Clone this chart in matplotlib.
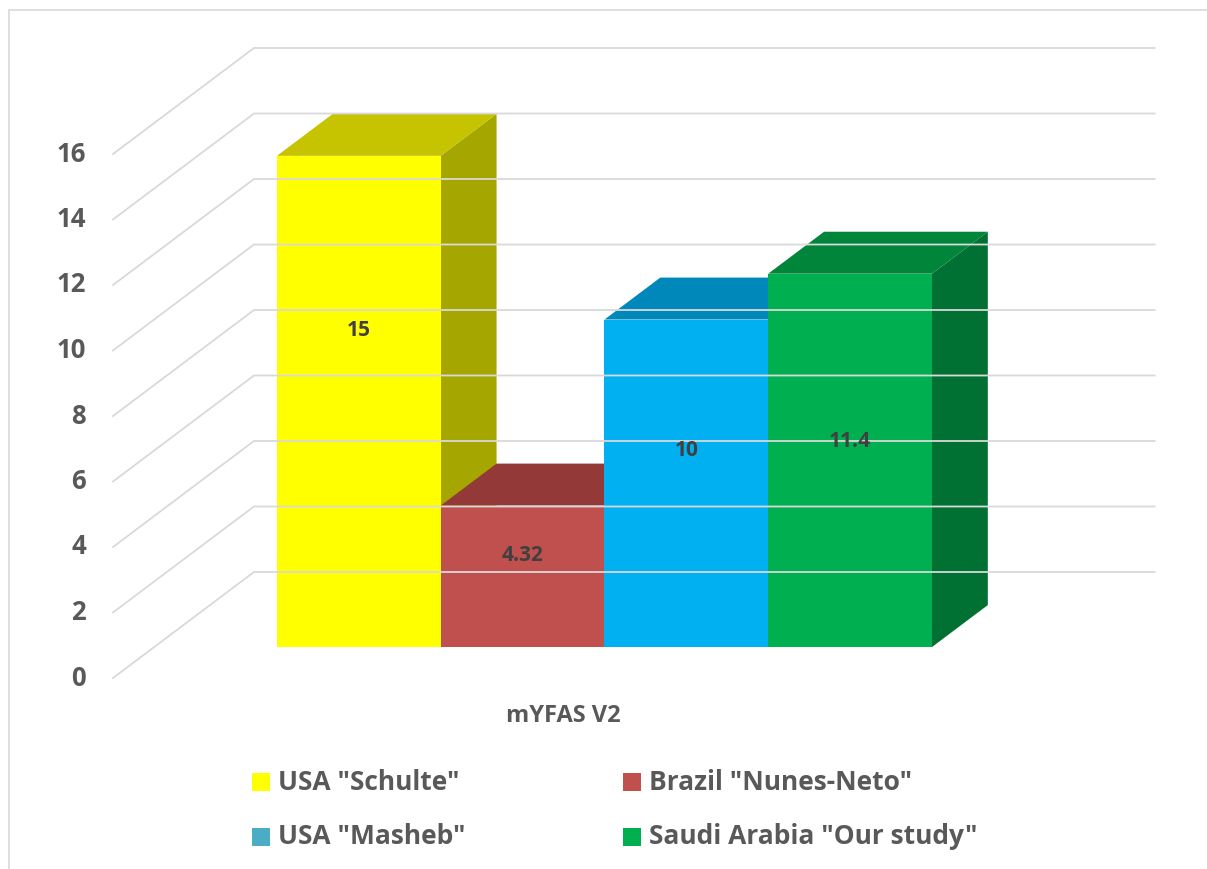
import matplotlib
matplotlib.use('Agg')
import matplotlib.pyplot as plt
from matplotlib.patches import Polygon, Rectangle

# ---------------------------------------------------------------------
# data

series = ['USA "Schulte"', 'Brazil "Nunes-Neto"', 'USA "Masheb"', 'Saudi Arabia "Our study"']
values = [15, 4.32, 10, 11.4]
value_labels = ['15', '4.32', '10', '11.4']
category = 'mYFAS V2'
y_ticks = [0, 2, 4, 6, 8, 10, 12, 14, 16]

# ---------------------------------------------------------------------
# look

front_colors = ['#ffff00', '#c0504d', '#00b0f0', '#00b050']
top_colors = ['#c6c300', '#933a39', '#0088ba', '#00853a']
side_colors = ['#a6a600', '#7d2f2d', '#006f99', '#007033']
legend_colors = ['#ffff00', '#c0504d', '#4bacc6', '#00b050']
label_frac = [0.645, 0.65, 0.6, 0.55]   # where excel put the data labels

grid_color = '#d9d9d9'
text_color = '#595959'
label_color = '#404040'
font = 'Open Sans'

W, H = 1207, 869
px_x = 163.75      # pixels per bar width
px_y = 32.75       # pixels per value unit
x0_px, y0_px = 235.8, 678.0   # where world (0, 0, 0) lands

DX = 141 / px_x    # full floor depth, in data units
DY = 106 / px_y
z0, z1 = 0.292, 0.688
x_left, x_right = -0.75, 4.75


def proj(x, y, z):
    return (x + z * DX, y + z * DY)


fig = plt.figure(figsize=(W / 100, H / 100), dpi=100)
ax = fig.add_axes([0, 0, 1, 1])
ax.set_xlim(-x0_px / px_x, (W - x0_px) / px_x)
ax.set_ylim((y0_px - H) / px_y, y0_px / px_y)
ax.axis('off')

# chart area border (cropped screenshot: only left and top show)
ax.add_patch(Rectangle((0.0075, -0.5), 2, 1.488, transform=fig.transFigure,
                       fill=False, edgecolor=grid_color, lw=1.2))

# walls
for v in y_ticks:
    a = proj(x_left, v, 0)
    b = proj(x_left, v, 1)
    c = proj(x_right, v, 1)
    ax.plot([a[0], b[0], c[0]], [a[1], b[1], c[1]], color=grid_color, lw=1.3,
            solid_joinstyle='miter')
    ax.text(a[0] - 0.165, a[1], str(v), ha='right', va='center', fontsize=18.5,
            fontweight='bold', color=text_color, family=font)

# bars: sides, then tops, then fronts
for i, v in enumerate(values):
    pts = [proj(i + 1, 0, z0), proj(i + 1, 0, z1), proj(i + 1, v, z1), proj(i + 1, v, z0)]
    ax.add_patch(Polygon(pts, closed=True, facecolor=side_colors[i], edgecolor='none'))
for i, v in enumerate(values):
    pts = [proj(i, v, z0), proj(i + 1, v, z0), proj(i + 1, v, z1), proj(i, v, z1)]
    ax.add_patch(Polygon(pts, closed=True, facecolor=top_colors[i], edgecolor='none'))
for i, v in enumerate(values):
    pts = [proj(i, 0, z0), proj(i + 1, 0, z0), proj(i + 1, v, z0), proj(i, v, z0)]
    ax.add_patch(Polygon(pts, closed=True, facecolor=front_colors[i], edgecolor='none'))
    lx, ly = proj(i + 0.5, v * label_frac[i], z0)
    ax.text(lx, ly, value_labels[i], ha='center', va='center', fontsize=15,
            fontweight='bold', color=label_color, family=font)

# category label
cx, cy = proj(len(values) / 2, 0, 0)
ax.text(cx, cy - 38 / px_y, category, ha='center', va='center', fontsize=17,
        fontweight='bold', color=text_color, family=font)

# legend, two rows of two like excel
leg_x = [252, 623]
leg_y = [782, 837]
for i, name in enumerate(series):
    lx = leg_x[i % 2]
    ly = leg_y[i // 2]
    fig.patches.append(Rectangle((lx / W, 1 - (ly + 9) / H), 18 / W, 18 / H,
                                 transform=fig.transFigure, facecolor=legend_colors[i],
                                 edgecolor='none'))
    fig.text((lx + 26) / W, 1 - ly / H, name, ha='left', va='center', fontsize=19,
             fontweight='bold', color=text_color, family=font)

fig.savefig('out.png', dpi=100)
